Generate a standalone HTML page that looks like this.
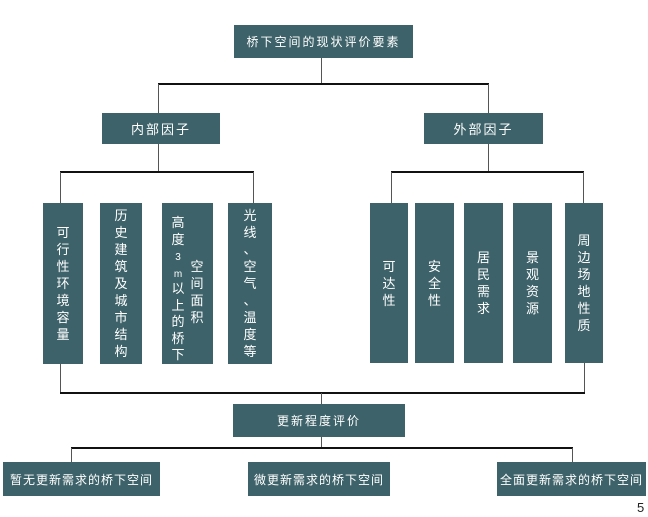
<!DOCTYPE html>
<html><head><meta charset="utf-8"><style>
body{margin:0;width:648px;height:517px;background:#fff;position:relative;overflow:hidden;font-family:"Liberation Sans","Noto Sans CJK SC",sans-serif}
.b{position:absolute;background:#3d6269;color:#fff;font-size:12px;display:flex;align-items:center;justify-content:center;text-align:center;letter-spacing:2px}
.v{line-height:17px;font-size:13px;letter-spacing:0}
.h{position:absolute;background:#111;height:2px}
.l{position:absolute;background:#555;width:1px}
</style></head><body>
<div class="l" style="left:321px;top:58px;height:27px"></div>
<div class="h" style="left:158px;top:83px;width:331px"></div>
<div class="l" style="left:158px;top:84px;height:29px"></div>
<div class="l" style="left:488px;top:84px;height:29px"></div>
<div class="l" style="left:158px;top:144px;height:28px"></div>
<div class="l" style="left:488px;top:144px;height:28px"></div>
<div class="h" style="left:60px;top:171px;width:194px"></div>
<div class="h" style="left:391px;top:171px;width:193px"></div>
<div class="l" style="left:60px;top:172px;height:31px"></div>
<div class="l" style="left:253px;top:172px;height:31px"></div>
<div class="l" style="left:391px;top:172px;height:31px"></div>
<div class="l" style="left:583px;top:172px;height:31px"></div>
<div class="l" style="left:60px;top:363px;height:30px"></div>
<div class="l" style="left:584px;top:363px;height:30px"></div>
<div class="h" style="left:60px;top:392px;width:525px"></div>
<div class="l" style="left:321px;top:393px;height:11px"></div>
<div class="l" style="left:321px;top:437px;height:11px"></div>
<div class="h" style="left:71px;top:447px;width:502px"></div>
<div class="l" style="left:71px;top:448px;height:14px"></div>
<div class="l" style="left:572px;top:448px;height:14px"></div>

<div class="b" style="left:234px;top:25px;width:179px;height:33px">桥下空间的现状评价要素</div>
<div class="b" style="left:102px;top:113px;width:118px;height:31px;font-size:13px">内部因子</div>
<div class="b" style="left:424px;top:113px;width:119px;height:31px;font-size:13px">外部因子</div>

<div class="b v" style="left:43px;top:203px;width:40px;height:161px">可<br>行<br>性<br>环<br>境<br>容<br>量</div>
<div class="b v" style="left:100px;top:203px;width:42px;height:161px">历<br>史<br>建<br>筑<br>及<br>城<br>市<br>结<br>构</div>
<div class="b v" style="left:162px;top:203px;width:51px;height:161px;display:block">
<div style="position:absolute;left:8px;top:12px;width:16px;text-align:center;line-height:16.5px">高<br>度<br><span style="font-size:10px;line-height:10px">3</span><br><span style="font-size:10px;line-height:10px">m</span><br>以<br>上<br>的<br>桥<br>下</div>
<div style="position:absolute;left:27px;top:55px;width:16px;text-align:center">空<br>间<br>面<br>积</div></div>
<div class="b v" style="left:228px;top:203px;width:44px;height:161px">光<br>线<br>、<br>空<br>气<br>、<br>温<br>度<br>等</div>

<div class="b v" style="left:370px;top:203px;width:38px;height:160px">可<br>达<br>性</div>
<div class="b v" style="left:415px;top:203px;width:39px;height:160px">安<br>全<br>性</div>
<div class="b v" style="left:464px;top:203px;width:39px;height:160px">居<br>民<br>需<br>求</div>
<div class="b v" style="left:513px;top:203px;width:39px;height:160px">景<br>观<br>资<br>源</div>
<div class="b v" style="left:565px;top:203px;width:38px;height:160px">周<br>边<br>场<br>地<br>性<br>质</div>

<div class="b" style="left:233px;top:404px;width:172px;height:33px">更新程度评价</div>
<div class="b" style="left:3px;top:462px;width:157px;height:34px;letter-spacing:1px">暂无更新需求的桥下空间</div>
<div class="b" style="left:248px;top:462px;width:142px;height:34px;letter-spacing:1px">微更新需求的桥下空间</div>
<div class="b" style="left:497px;top:462px;width:149px;height:34px;letter-spacing:1px">全面更新需求的桥下空间</div>
<div style="position:absolute;left:637px;top:500px;font-size:13px;color:#222">5</div>
</body></html>
